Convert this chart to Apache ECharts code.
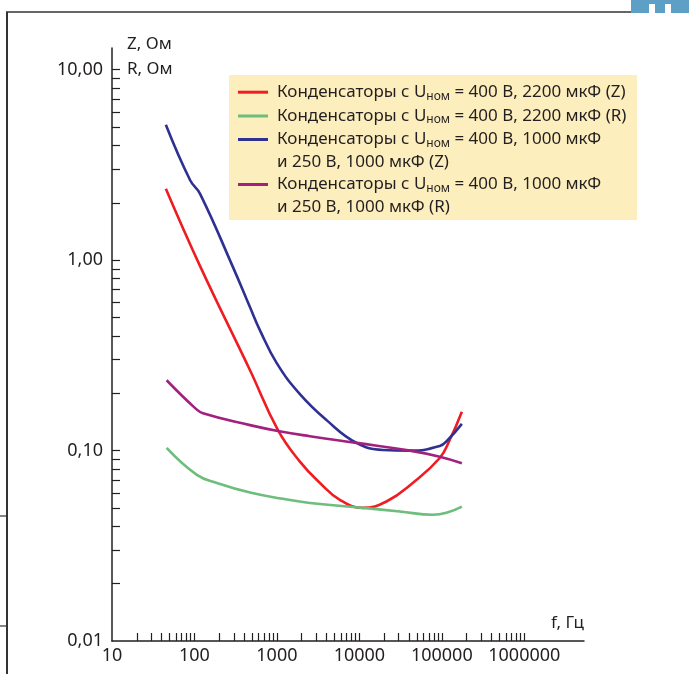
<!DOCTYPE html>
<html>
<head>
<meta charset="utf-8">
<script src="https://cdn.jsdelivr.net/npm/echarts@6/dist/echarts.min.js"></script>
<style>
html,body{margin:0;padding:0;background:#fff;}
#chart{width:689px;height:674px;}
</style>
</head>
<body>
<div id="chart"></div>
<script>
// ---- data ----
const seriesNames = [
  'Конденсаторы с Uном = 400 В, 2200 мкФ (Z)',
  'Конденсаторы с Uном = 400 В, 2200 мкФ (R)',
  'Конденсаторы с Uном = 400 В, 1000 мкФ\nи 250 В, 1000 мкФ (Z)',
  'Конденсаторы с Uном = 400 В, 1000 мкФ\nи 250 В, 1000 мкФ (R)'
];
const seriesColors = ['#ee1d24', '#6dbd7c', '#2e3192', '#a3217e'];

const redFreq = [45, 117, 472, 1030, 1900, 3330, 5800, 11000, 21300, 44400, 94300, 124600, 175000];
const redZ    = [2.37, 0.93, 0.264, 0.128, 0.0875, 0.0676, 0.0551, 0.050, 0.054, 0.0676, 0.0914, 0.1136, 0.160];

const greenFreq = [46, 107, 187, 472, 1186, 2510, 11000, 30900, 77600, 113800, 175000];
const greenR    = [0.1032, 0.0745, 0.0676, 0.0602, 0.0558, 0.0531, 0.050, 0.0479, 0.046, 0.0471, 0.0508];

const blueFreq = [45, 89, 117, 294, 472, 623, 995, 1900, 4000, 9250, 19300, 40900, 94400, 118000, 175000];
const blueZ    = [5.14, 2.62, 2.23, 0.916, 0.565, 0.428, 0.288, 0.198, 0.1445, 0.1097, 0.1007, 0.0999, 0.1056, 0.1136, 0.138];

const purpleFreq = [46, 102, 127, 472, 1030, 2510, 9250, 40900, 94400, 175000];
const purpleR    = [0.234, 0.167, 0.157, 0.136, 0.1267, 0.119, 0.1097, 0.0999, 0.0929, 0.0858];

const xLabelValues = [10, 100, 1000, 10000, 100000, 1000000];
const yLabelValues = [0.01, 0.1, 1, 10];
const xName = 'f, Гц';
const yName = 'Z, Ом\nR, Ом';

// ---- helpers ----
function pairs(xs, ys){ return xs.map((x,i)=>[x, ys[i]]); }
function minorTicks(fromExp, toExp){
  const out=[];
  for(let e=fromExp;e<toExp;e++){
    for(let m=2;m<=10;m++){ out.push(m*Math.pow(10,e)); }
  }
  return out;
}
const FONT = 'Noto Sans';
const INK = '#231f20';

const chart = echarts.init(document.getElementById('chart'), null, {renderer:'canvas'});

const seriesData = [pairs(redFreq, redZ), pairs(greenFreq, greenR), pairs(blueFreq, blueZ), pairs(purpleFreq, purpleR)];

function legendFormatter(name){
  return name.replace('Uном', 'U{s|ном}');
}
const legendRich = { s: { fontSize: 12, fontFamily: FONT, color: INK, padding: [8,0,0,0] } };
const legendTops = [80.7, 104.5, 105, 150];
const legends = seriesNames.map((n, i) => ({
  data: [n],
  orient: 'vertical',
  left: 238,
  top: legendTops[i],
  padding: 0,
  icon: 'rect',
  itemWidth: 30,
  itemHeight: 3,
  selectedMode: false,
  formatter: legendFormatter,
  textStyle: {
    fontFamily: FONT, fontSize: 17, color: INK, lineHeight: 23,
    padding: n.indexOf('\n') >= 0 ? [23,0,0,4] : [0,0,0,4],
    rich: legendRich
  }
}));

const option = {
  animation: false,
  backgroundColor: '#fff',
  grid: { left: 112, right: 105, top: 48, bottom: 33, containLabel: false, outerBoundsMode: 'none' },
  legend: legends,
  graphic: [
    { type: 'rect', z: 0, shape: { x: 229, y: 75, width: 408, height: 145 }, style: { fill: '#fdeebd' } },
    { type: 'line', shape: { x1: 6, y1: 12, x2: 631, y2: 12 }, style: { stroke: '#333', lineWidth: 1.5 } },
    { type: 'line', shape: { x1: 7, y1: 12, x2: 7, y2: 674 }, style: { stroke: '#333', lineWidth: 2 } },
    { type: 'line', shape: { x1: 0, y1: 516, x2: 7, y2: 516 }, style: { stroke: '#333', lineWidth: 1.2 } },
    { type: 'line', shape: { x1: 0, y1: 626, x2: 7, y2: 626 }, style: { stroke: '#333', lineWidth: 1.2 } },
    { type: 'rect', shape: { x: 631, y: 0, width: 58, height: 13 }, style: { fill: '#5e9fc6' } },
    { type: 'rect', shape: { x: 649, y: 4, width: 6, height: 9 }, style: { fill: '#ffffff' } },
    { type: 'rect', shape: { x: 665, y: 4, width: 6, height: 9 }, style: { fill: '#ffffff' } }
  ],
  xAxis: {
    type: 'log', logBase: 10, min: 10, max: 5300000,
    name: xName, nameLocation: 'end', nameGap: 0,
    nameTextStyle: { fontFamily: FONT, fontSize: 17, color: INK, align: 'right', verticalAlign: 'bottom', padding: [0,0,9,0] },
    axisLine: { show: true, onZero: false, lineStyle: { color: INK, width: 1.5 } },
    axisTick: { show: true, inside: true, length: 8, lineStyle: { color: INK, width: 1.2 }, customValues: minorTicks(1, 6) },
    axisLabel: { show: true, margin: 6, fontFamily: FONT, fontSize: 18, color: INK, customValues: xLabelValues,
      formatter: v => String(Math.round(v)) },
    splitLine: { show: false },
    minorTick: { show: false }, minorSplitLine: { show: false }
  },
  yAxis: {
    type: 'log', logBase: 10, min: 0.01, max: 13,
    name: yName, nameLocation: 'end', nameGap: -9,
    nameTextStyle: { fontFamily: FONT, fontSize: 17, color: INK, align: 'left', verticalAlign: 'middle', lineHeight: 25, padding: [0,0,0,15] },
    axisLine: { show: true, onZero: false, lineStyle: { color: INK, width: 1.5 } },
    axisTick: { show: true, inside: true, length: 8, lineStyle: { color: INK, width: 1.2 }, customValues: minorTicks(-2, 1) },
    axisLabel: { show: true, margin: 9, fontFamily: FONT, fontSize: 18, color: INK, customValues: yLabelValues,
      formatter: v => Number(v).toFixed(2).replace('.', ',') },
    splitLine: { show: false },
    minorTick: { show: false }, minorSplitLine: { show: false }
  },
  series: seriesNames.map((n, i) => ({
    name: n,
    type: 'line',
    data: seriesData[i],
    smooth: 0.45,
    symbol: 'none',
    showSymbol: false,
    color: seriesColors[i],
    lineStyle: { color: seriesColors[i], width: 2.6 },
    z: 3
  }))
};
chart.setOption(option);
</script>
</body>
</html>
